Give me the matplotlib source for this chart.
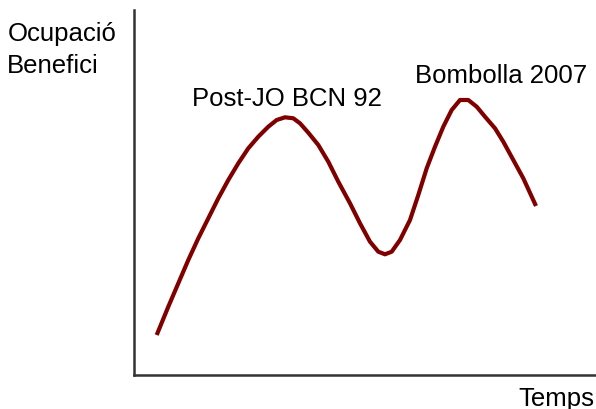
import matplotlib
matplotlib.use("Agg")
import matplotlib.pyplot as plt

# Curve (time units, level units)
temps = [22.7, 34.3, 44.3, 54.3, 64.3, 74.3, 84.3, 94.3, 104.3, 114.3,
         124.3, 134.3, 142.7, 151, 159.3, 166, 174.3, 184.3, 194.3, 204.3,
         216, 226, 236, 244.3, 251, 257.7, 266, 276, 284.3,
         292.7, 301, 309.3, 317.7, 326, 334.3, 342.7, 351, 361, 369.3,
         379.3, 389.3, 402]
nivell = [40, 68.3, 91.7, 115, 136.7, 156.7, 176.7, 195, 211.7, 226.7,
          238.3, 248.3, 255, 257.7, 256.7, 251.7, 242.3, 230, 213.3, 193.3,
          171.7, 151.7, 133.3, 123.3, 120.7, 123.3, 135, 155, 180,
          206.7, 228.3, 248.3, 265, 275, 275, 268.3, 258.3, 246.7, 233.3,
          215, 196.7, 169]

labels = ["Post-JO BCN 92", "Bombolla 2007"]
ylabel_lines = ["Ocupació", "Benefici"]
xlabel = "Temps"

plt.rcParams['font.family'] = ['Liberation Sans', 'DejaVu Sans']

fig = plt.figure(figsize=(5.96, 4.09), dpi=100)
ax = fig.add_axes([134/596, 34/409, 462/596, 365/409])
ax.plot(temps, nivell, color='#800000', lw=3,
        solid_capstyle='butt', solid_joinstyle='round')
ax.set_xlim(0, 462)
ax.set_ylim(0, 365)
ax.set_xticks([])
ax.set_yticks([])
for s in ['top', 'right']:
    ax.spines[s].set_visible(False)
for s in ['left', 'bottom']:
    ax.spines[s].set_color('#333333')
    ax.spines[s].set_linewidth(1.8)

fs = 18.5
fig.text(7.5/596, 1 - 41/409, ylabel_lines[0], fontsize=fs, va='baseline', ha='left')
fig.text(7/596, 1 - 73/409, ylabel_lines[1], fontsize=fs, va='baseline', ha='left')
fig.text(594/596, 1 - 406/409, xlabel, fontsize=fs, va='baseline', ha='right')
fig.text(192/596, 1 - 106/409, labels[0], fontsize=fs, va='baseline', ha='left')
fig.text(415/596, 1 - 83/409, labels[1], fontsize=fs, va='baseline', ha='left')

fig.savefig("out.png", dpi=100)
